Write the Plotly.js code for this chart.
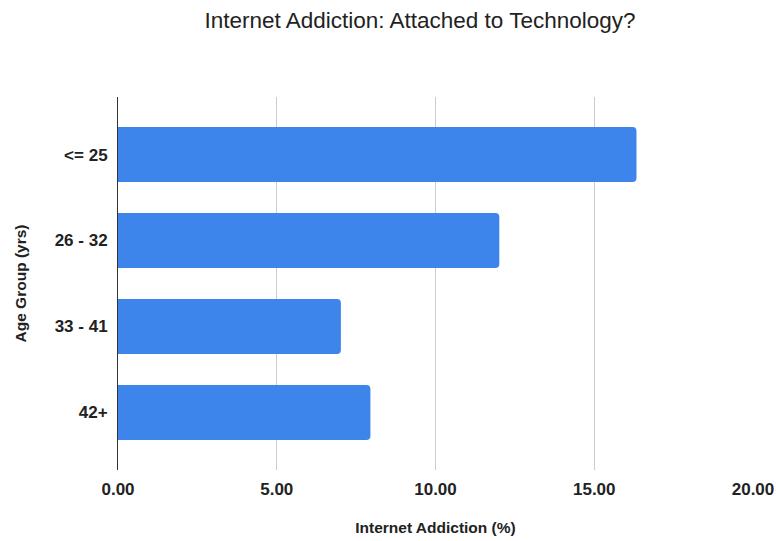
<!DOCTYPE html>
<html>
<head>
<meta charset="utf-8">
<script src="https://cdn.plot.ly/plotly-3.0.1.min.js"></script>
<style>html,body{margin:0;padding:0;background:#fff;}#chart{width:776px;height:541px;}</style>
</head>
<body>
<div id="chart"></div>
<script>
var categories = ["<= 25", "26 - 32", "33 - 41", "42+"];
var values = [16.33, 12.01, 7.02, 7.95];
var xTickVals = [0, 5, 10, 15, 20];
var xTickText = ["0.00", "5.00", "10.00", "15.00", "20.00"];

var trace = {
  type: "bar",
  orientation: "h",
  x: values,
  y: categories,
  marker: {color: "#3d85ea", cornerradius: 4},
  hoverinfo: "x+y"
};

var FONT = "Liberation Sans, Arial, sans-serif";

var layout = {
  width: 776,
  height: 541,
  paper_bgcolor: "#ffffff",
  plot_bgcolor: "#ffffff",
  margin: {l: 118, r: 23, t: 97, b: 71},
  font: {family: FONT, color: "#222222"},
  title: {
    text: "Internet Addiction: Attached to Technology?",
    font: {size: 22.5, color: "#222222", family: FONT},
    x: 420/776, xref: "container", xanchor: "center",
    y: 1 - 20/541, yref: "container", yanchor: "middle"
  },
  bargap: 0.36,
  showlegend: false,
  xaxis: {
    range: [0, 20],
    tickvals: xTickVals,
    ticktext: xTickText,
    showgrid: true,
    gridcolor: "#cccccc",
    gridwidth: 1,
    zeroline: false,
    showline: false,
    ticks: "",
    ticklabelstandoff: 7,
    tickfont: {size: 17, color: "#222222", family: FONT, weight: "bold"},
    title: {
      text: "<b>Internet Addiction (%)</b>",
      font: {size: 15.5, color: "#222222", family: FONT},
      standoff: 24
    },
    fixedrange: true
  },
  yaxis: {
    type: "category",
    range: [3.67, -0.67],
    showgrid: false,
    zeroline: false,
    showline: true,
    linecolor: "#333333",
    linewidth: 1,
    ticks: "",
    ticklabelstandoff: 6,
    tickfont: {size: 17, color: "#222222", family: FONT, weight: "bold"},
    title: {
      text: "<b>Age Group (yrs)</b>",
      font: {size: 15.5, color: "#222222", family: FONT},
      standoff: 24
    },
    fixedrange: true
  }
};

Plotly.newPlot("chart", [trace], layout, {displayModeBar: false, staticPlot: true});
</script>
</body>
</html>
